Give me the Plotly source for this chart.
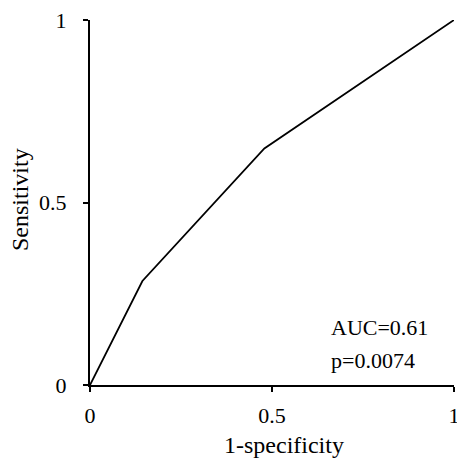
import plotly.graph_objects as go

# ROC curve coordinates (1-specificity, sensitivity)
fpr = [0.0, 0.144, 0.479, 1.0]
tpr = [0.0, 0.285, 0.648, 1.0]

tick_vals = [0, 0.5, 1]
tick_text = ["0", "0.5", "1"]

auc_label = "AUC=0.61"
p_label = "p=0.0074"

FONT = "Liberation Serif"

fig = go.Figure()
fig.add_trace(go.Scatter(
    x=fpr, y=tpr, mode="lines",
    line=dict(color="black", width=1.8),
    cliponaxis=False, showlegend=False, hoverinfo="skip",
))

axis_common = dict(
    range=[0, 1],
    tickvals=tick_vals,
    ticktext=tick_text,
    showgrid=False,
    zeroline=False,
    showline=True,
    linecolor="black",
    linewidth=2,
    ticks="outside",
    ticklen=5,
    tickwidth=2,
    tickcolor="black",
    ticklabeloverflow="allow",
    automargin=False,
    tickfont=dict(family=FONT, size=22, color="black"),
)

# plot area spans x 90..454 and y 20..385 (px)
fig.update_layout(
    width=457, height=461,
    margin=dict(l=90, r=3, t=20, b=76),
    paper_bgcolor="white",
    plot_bgcolor="white",
    xaxis=dict(axis_common, ticklabelstandoff=5),
    yaxis=dict(axis_common, ticklabelstandoff=12),
    annotations=[
        dict(text="1-specificity", xref="paper", yref="paper",
             x=(284 - 90) / 364, y=(385 - 445) / 365,
             xanchor="center", yanchor="middle", showarrow=False,
             font=dict(family=FONT, size=24, color="black")),
        dict(text="Sensitivity", xref="paper", yref="paper",
             x=(20 - 90) / 364, y=(385 - 200) / 365, textangle=-90,
             xanchor="center", yanchor="middle", showarrow=False,
             font=dict(family=FONT, size=24, color="black")),
        dict(text=auc_label, xref="paper", yref="paper",
             x=(329 - 90) / 364, y=(385 - 327) / 365,
             xanchor="left", yanchor="middle", showarrow=False,
             font=dict(family=FONT, size=22, color="black")),
        dict(text=p_label, xref="paper", yref="paper",
             x=(329 - 90) / 364, y=(385 - 360) / 365,
             xanchor="left", yanchor="middle", showarrow=False,
             font=dict(family=FONT, size=22, color="black")),
    ],
)

fig.write_html("out.html")
